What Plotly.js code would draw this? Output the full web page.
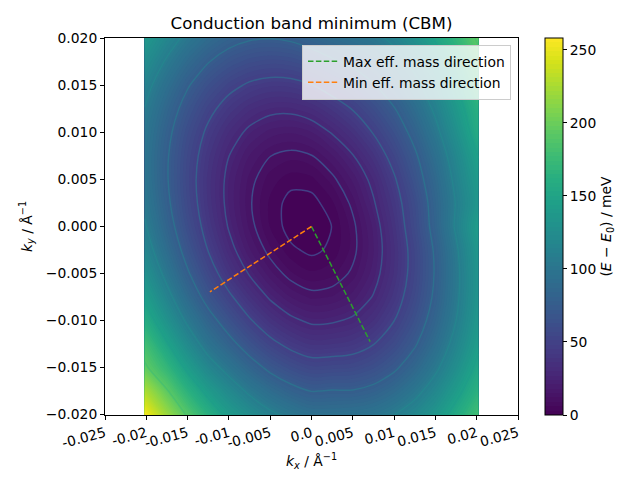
<!DOCTYPE html>
<html>
<head>
<meta charset="utf-8">
<script src="https://cdn.plot.ly/plotly-3.0.1.min.js"></script>
<style>html,body{margin:0;padding:0;background:#fff}#plot{width:640px;height:480px}</style>
</head>
<body>
<div id="plot"></div>
<script>
var kx = [-0.0202,-0.0175,-0.015,-0.0125,-0.01,-0.0075,-0.005,-0.0025,0,0.0025,0.005,0.0075,0.01,0.0125,0.015,0.0175,0.0202];
var ky = [-0.0202,-0.0175,-0.015,-0.0125,-0.01,-0.0075,-0.005,-0.0025,0,0.0025,0.005,0.0075,0.01,0.0125,0.015,0.0175,0.0202];
var energy = [
 [258,221,191,165,142,127,113.5,104,97,96.4,97.9,101,109,120.5,136,157,181],
 [227,194,165,140,121,104,91,81,74.6,75.8,75.9,80,88.6,101.5,118.5,140,165],
 [196,170,142,118,100,84,70.3,60.8,55,55.8,56.9,62.2,71.7,85.7,103.7,126,153],
 [180,149,122,98,81.5,65.3,52.4,43.5,38.4,39,41.2,47.6,58.2,72.9,92,115.5,143],
 [160,130.5,104,83,65,49.6,37.5,29.4,24.9,25.6,28.7,36.1,47.8,63.6,83.8,108,137],
 [144,114.7,89.3,67.6,50.9,36.6,25.4,17.9,14.2,15.2,19.4,27.7,40.5,57.3,78.5,104,133.7],
 [130,101.6,77.1,56.2,38.9,26,16,9.4,6.5,8,13.2,22.7,36.3,54.3,76.5,103,133.7],
 [118.5,91.2,67.5,47.5,31.1,18.4,9.7,3.9,1.9,3.9,10.1,20.7,35.4,54.4,77.6,105,137],
 [110,83.4,60.7,41.6,26,14.2,5.8,1.1,0,3.1,10.4,21.8,37.6,57.7,81.9,110.6,143],
 [104,78.5,56.7,38.4,23.7,12.8,5.3,1.4,1.3,5.4,13.5,25.8,41,60,83.5,109,136],
 [101,76.2,55.2,37.8,24,14,7.4,4.4,5.1,10.3,18.7,30.2,46.1,65.7,87.4,113,140.5],
 [100.4,76.6,56.5,40,27.1,17.8,12.1,10,11.6,17.6,26.4,38,53.9,72,93.8,118.7,147.8],
 [102.6,79.7,60.4,44.8,32.8,24.4,19.6,18.3,20.8,27.7,36.5,48.8,63.3,81,102.3,127.8,158.3],
 [107.5,85.5,67.1,52.3,41.2,33.7,29.7,29.4,32.7,39.7,48.7,60.4,73.9,91,111.6,136.6,164.5],
 [115,94,76.5,62.6,52.3,45.7,42.6,43.1,47.3,55,63,73.4,86,102,121,146,175],
 [125.6,105.2,88.6,75.6,66.2,60.5,58.3,59.7,64.7,72,78.8,87.4,99,114,133,157,183],
 [138.6,119,103.4,91.2,82.7,77.9,76.5,78.8,84.7,91.5,96.8,103,114,130,151,170,197]
];
var ringLevels = [3,12,27,48,75,108,147,192];
var ringColors = ['#433e85','#3f4a8a','#3b528b','#35608d','#2d708e','#25848e','#1f9e89','#4ac16d'];
var maxDirX = [0,0.0071];
var maxDirY = [0,-0.01225];
var minDirX = [0,-0.0123];
var minDirY = [0,-0.00695];
var xTickVals = [-0.025,-0.02,-0.015,-0.01,-0.005,0,0.005,0.01,0.015,0.02,0.025];
var xTickText = ['-0.025','-0.02','-0.015','-0.01','-0.005','0.0','0.005','0.01','0.015','0.02','0.025'];
var yTickVals = [-0.02,-0.015,-0.01,-0.005,0,0.005,0.01,0.015,0.02];
var yTickText = ['−0.020','−0.015','−0.010','−0.005','0.000','0.005','0.010','0.015','0.020'];
var cbTicks = [0,50,100,150,200,250];

var FONT = 'DejaVu Sans';
var traces = [{
  type:'contour', x:kx, y:ky, z:energy,
  colorscale:'Viridis', zmin:0, zmax:258, autocontour:false,
  contours:{start:0,end:258,size:3,coloring:'fill',showlines:false},
  line:{width:0}, hoverinfo:'skip', showlegend:false,
  colorbar:{
    x:1.0655, xanchor:'left', y:0.5, yanchor:'middle', len:1, lenmode:'fraction',
    thickness:18, thicknessmode:'pixels', xpad:0, ypad:0,
    outlinecolor:'#000', outlinewidth:1, bgcolor:'rgba(0,0,0,0)', borderwidth:0,
    tickmode:'array', tickvals:cbTicks, ticktext:cbTicks.map(String),
    ticks:'outside', ticklen:4, tickwidth:1, tickcolor:'#000',
    tickfont:{family:FONT,size:13.89,color:'#000'},
    title:{text:'(<i>E</i> − <i>E</i><sub>0</sub>) / meV', side:'right', font:{family:FONT,size:13.89,color:'#000'}}
  }
}];
ringLevels.forEach(function(lv,i){
  traces.push({
    type:'contour', x:kx, y:ky, z:energy, showscale:false, autocontour:false,
    contours:{start:lv,end:lv,size:1,coloring:'none'},
    line:{color:ringColors[i],width:1.5,smoothing:0.8},
    hoverinfo:'skip', showlegend:false
  });
});
traces.push({type:'scatter',mode:'lines',x:maxDirX,y:maxDirY,name:'Max eff. mass direction',
  line:{color:'#2ca02c',width:1.5,dash:'5.5px,2.4px'}});
traces.push({type:'scatter',mode:'lines',x:minDirX,y:minDirY,name:'Min eff. mass direction',
  line:{color:'#ff7f0e',width:1.5,dash:'5.5px,2.4px'}});

var layout = {
  width:640, height:480,
  margin:{l:104.5,r:122,t:37.5,b:65,pad:0},
  paper_bgcolor:'#fff', plot_bgcolor:'#fff',
  font:{family:FONT,size:13.89,color:'#000'},
  title:{text:'Conduction band minimum (CBM)',font:{family:FONT,size:16.67,color:'#000'},
    xref:'paper',x:0.5,xanchor:'center',yref:'container',y:0.952,yanchor:'middle'},
  xaxis:{range:[-0.025,0.025],tickmode:'array',tickvals:xTickVals,ticktext:xTickText,tickangle:-15,
    ticks:'outside',ticklen:4,tickwidth:1,tickcolor:'#000',showgrid:false,zeroline:false,
    showline:true,linecolor:'#000',linewidth:1,mirror:true,
    tickfont:{family:FONT,size:13.89,color:'#000'},
    title:{text:'<i>k</i><sub><i>x</i></sub> / Å<sup>−1</sup>',standoff:6,font:{family:FONT,size:13.89,color:'#000'}}},
  yaxis:{range:[-0.02005,0.02005],tickmode:'array',tickvals:yTickVals,ticktext:yTickText,
    ticks:'outside',ticklen:4,tickwidth:1,tickcolor:'#000',showgrid:false,zeroline:false,
    showline:true,linecolor:'#000',linewidth:1,mirror:true,
    tickfont:{family:FONT,size:13.89,color:'#000'},
    title:{text:'<i>k</i><sub><i>y</i></sub> / Å<sup>−1</sup>',standoff:10,font:{family:FONT,size:13.89,color:'#000'}}},
  legend:{x:0.983,xanchor:'right',y:0.982,yanchor:'top',bgcolor:'rgba(255,255,255,0.8)',
    bordercolor:'#ccc',borderwidth:1,font:{family:FONT,size:13.89,color:'#000'},itemwidth:30,
    tracegroupgap:0}
};
Plotly.newPlot('plot',traces,layout,{displayModeBar:false,staticPlot:true});
</script>
</body>
</html>
